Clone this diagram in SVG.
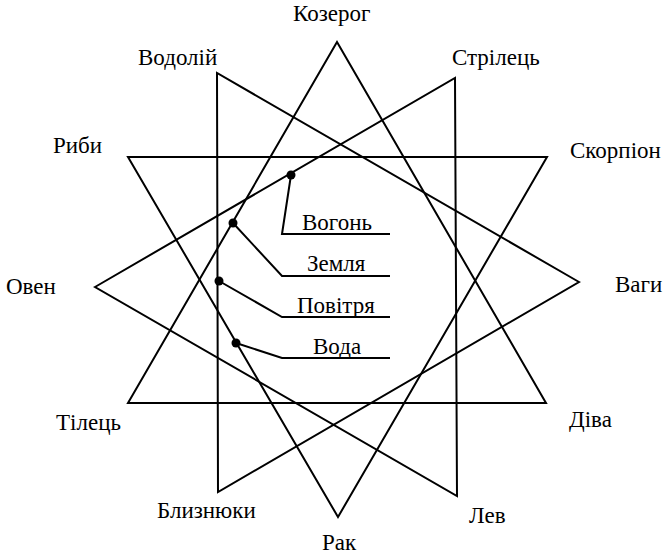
<svg xmlns="http://www.w3.org/2000/svg" width="668" height="555" viewBox="0 0 668 555">
<style>
.ln{fill:none;stroke:#000;stroke-width:2;stroke-linejoin:miter}
text{font-family:'Liberation Serif','DejaVu Serif',serif;font-size:23px;fill:#000}
.dot{fill:#000}
</style>
<rect width="668" height="555" fill="#fff"/>
<g id="connectors">
<polygon id="earth" class="ln" points="337,42 128,403 546,403"/>
<polygon id="water" class="ln" points="338,517 128,157 547,157"/>
<polygon id="fire" class="ln" points="95,287 455,78 457,496"/>
<polygon id="air" class="ln" points="579,282 217,73 218,492"/>
<polyline class="ln" points="291,175 282,234 390,234"/>
<polyline class="ln" points="233,223 282,276 390,276"/>
<polyline class="ln" points="219,281 282,317 390,317"/>
<polyline class="ln" points="236,343 282,358 390,358"/>
</g>
<g id="dots">
<circle class="dot" cx="291" cy="175" r="4.5"/>
<circle class="dot" cx="233" cy="223" r="4.5"/>
<circle class="dot" cx="219" cy="281" r="4.5"/>
<circle class="dot" cx="236" cy="343" r="4.5"/>
</g>
<g id="signs">
<text x="293" y="21">Козерог</text>
<text x="138" y="65">Водолій</text>
<text x="452" y="65">Стрілець</text>
<text x="53" y="153">Риби</text>
<text x="570" y="158">Скорпіон</text>
<text x="6" y="294">Овен</text>
<text x="615" y="292">Ваги</text>
<text x="56" y="430">Тілець</text>
<text x="569" y="427">Діва</text>
<text x="157" y="518">Близнюки</text>
<text x="469" y="523">Лев</text>
<text x="322" y="550">Рак</text>
</g>
<g id="elements">
<text x="302" y="230">Вогонь</text>
<text x="307" y="271">Земля</text>
<text x="297" y="313">Повітря</text>
<text x="313" y="354">Вода</text>
</g>
</svg>
